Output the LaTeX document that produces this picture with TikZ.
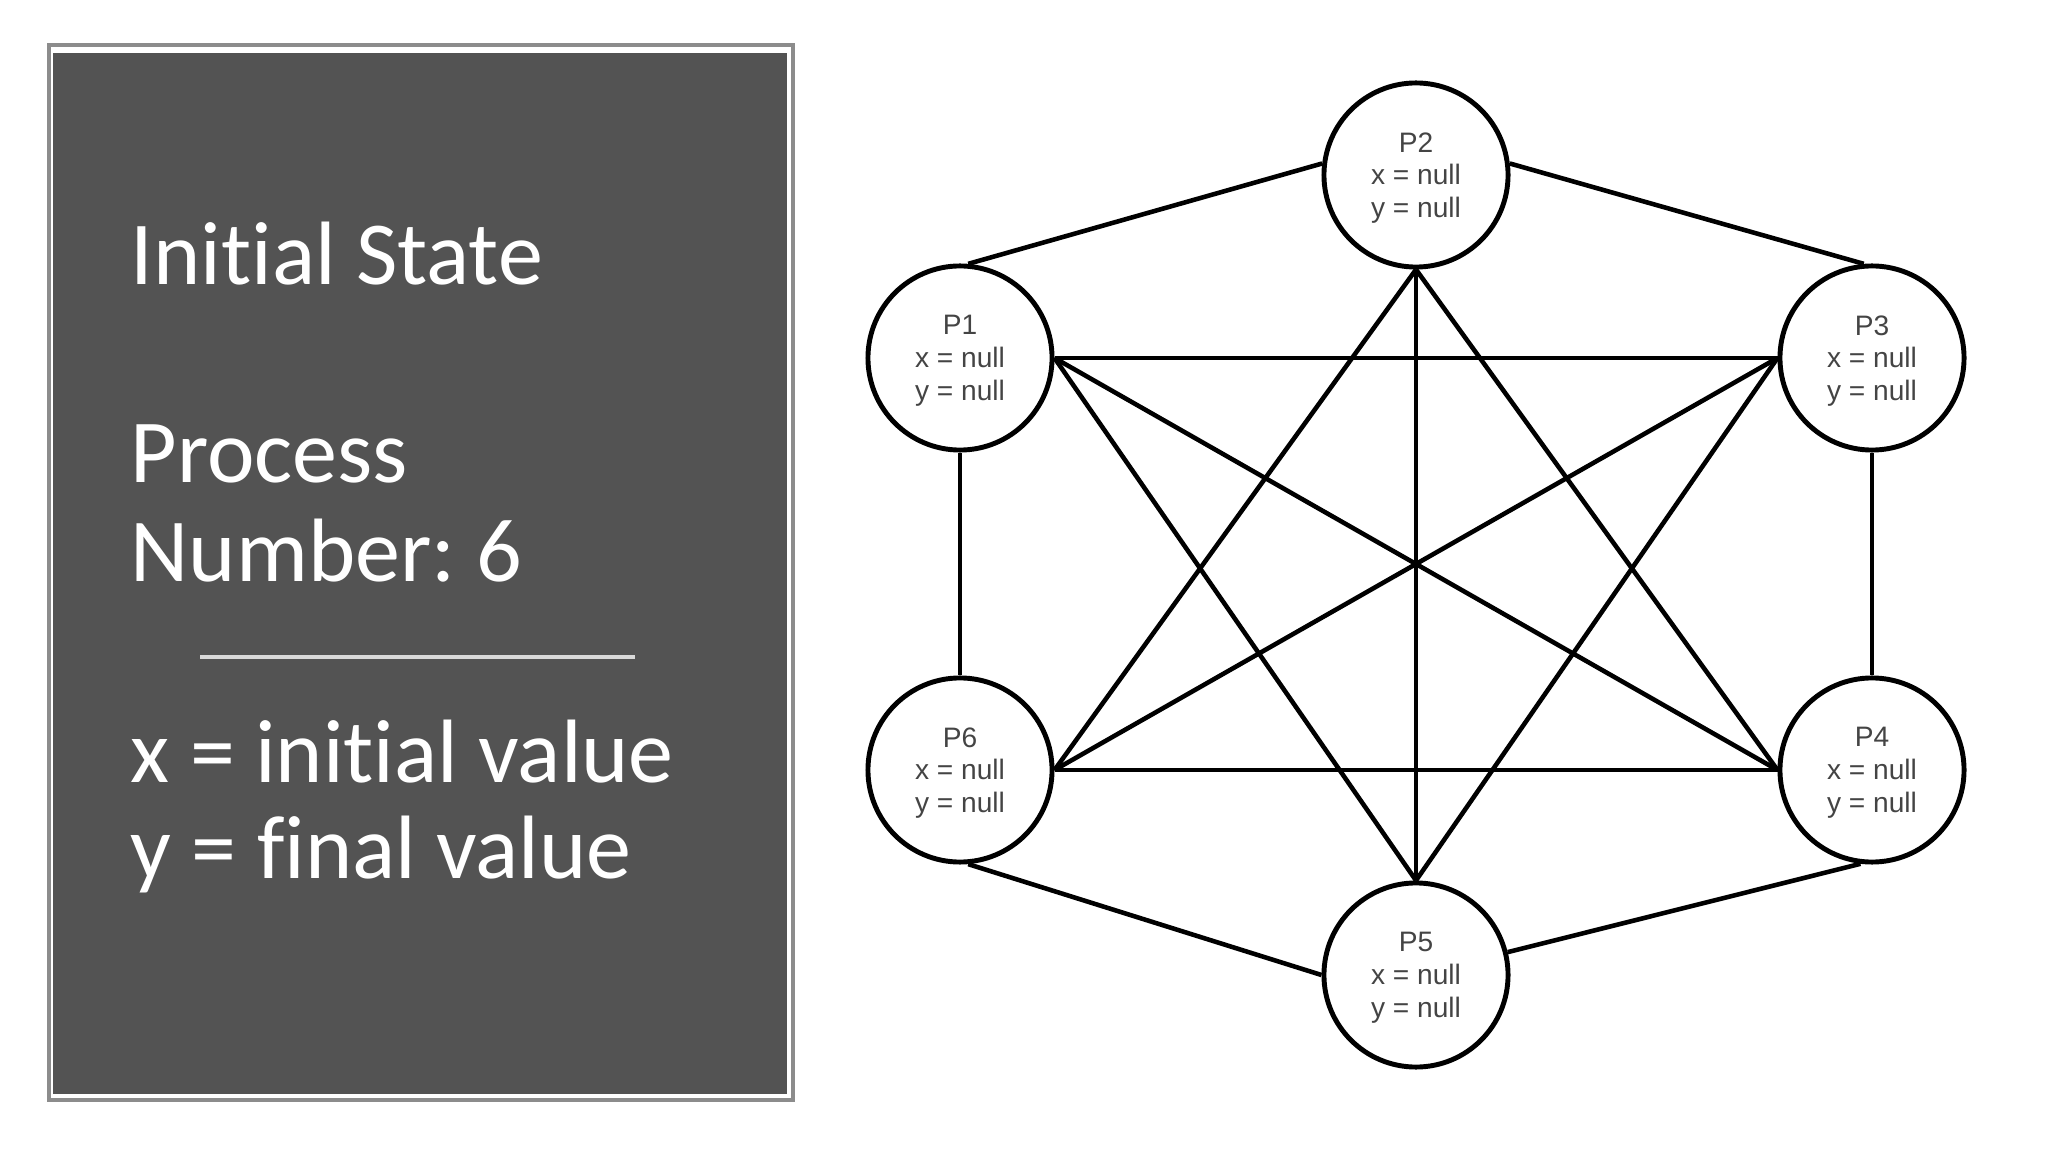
\documentclass[tikz,border=0pt]{standalone}
\usepackage{fontspec}
\setmainfont{Carlito}[Ligatures={NoCommon,NoRequired,NoContextual}]
\newfontfamily\procfont{Liberation Sans}
\usepackage{tikz}
\frenchspacing

\definecolor{slate}{HTML}{535353}
\definecolor{rimgray}{HTML}{8C8C8C}
\definecolor{rulegray}{HTML}{D9D9D9}
\definecolor{inkgray}{HTML}{444444}

\begin{document}
\begin{tikzpicture}[x=0.01cm, y=-0.01cm,
    proc/.style={circle, draw, line width=1.4pt, minimum size=1.84cm, inner sep=0pt,
        align=center, text=inkgray, text depth=0pt, font=\procfont\fontsize{8}{9.3}\selectfont},
    link/.style={line width=1.3pt},
    panel/.style={anchor=base west, text=white, inner sep=0pt,
        font=\fontsize{25.6}{28}\selectfont}]
    \useasboundingbox (0,0) rectangle (2048,1152);
    % left panel
    \draw[rimgray, line width=1.2pt, fill=white] (49,45) rectangle (793,1100);
    \fill[slate] (53,53) rectangle (787,1094);
    \node[panel] (title) at (130,285) {Initial State};
    \node[panel] (proc1) at (130,483) {Process};
    \node[panel] (proc2) at (130,582) {Number: 6};
    \draw[rulegray, line width=1.1pt] (200,657) -- (635,657);
    \node[panel] (xdef) at (130,782) {x = initial value};
    \node[panel] (ydef) at (130,878) {y = final value};
    % processes
    \node[proc] (P1) at (960,358) {P1\\x = null\\y = null};
    \node[proc] (P2) at (1416,175) {P2\\x = null\\y = null};
    \node[proc] (P3) at (1872,358) {P3\\x = null\\y = null};
    \node[proc] (P4) at (1872,770) {P4\\x = null\\y = null};
    \node[proc] (P5) at (1416,975) {P5\\x = null\\y = null};
    \node[proc] (P6) at (960,770) {P6\\x = null\\y = null};
    % outer ring
    \draw[link] (P1.85) -- (P2.173);
    \draw[link] (P2.7) -- (P3.95);
    \draw[link] (P3.south) -- (P4.north);
    \draw[link] (P4.263) -- (P5.14);
    \draw[link] (P5.180) -- (P6.275);
    \draw[link] (P6.north) -- (P1.south);
    % inner links
    \draw[link] (P1.east) -- (P3.west);
    \draw[link] (P6.east) -- (P4.west);
    \draw[link] (P1.east) -- (P4.west);
    \draw[link] (P3.west) -- (P6.east);
    \draw[link] (P1.east) -- (P5.north);
    \draw[link] (P3.west) -- (P5.north);
    \draw[link] (P2.south) -- (P6.east);
    \draw[link] (P2.south) -- (P4.west);
    \draw[link] (P2.south) -- (P5.north);
\end{tikzpicture}
\end{document}
